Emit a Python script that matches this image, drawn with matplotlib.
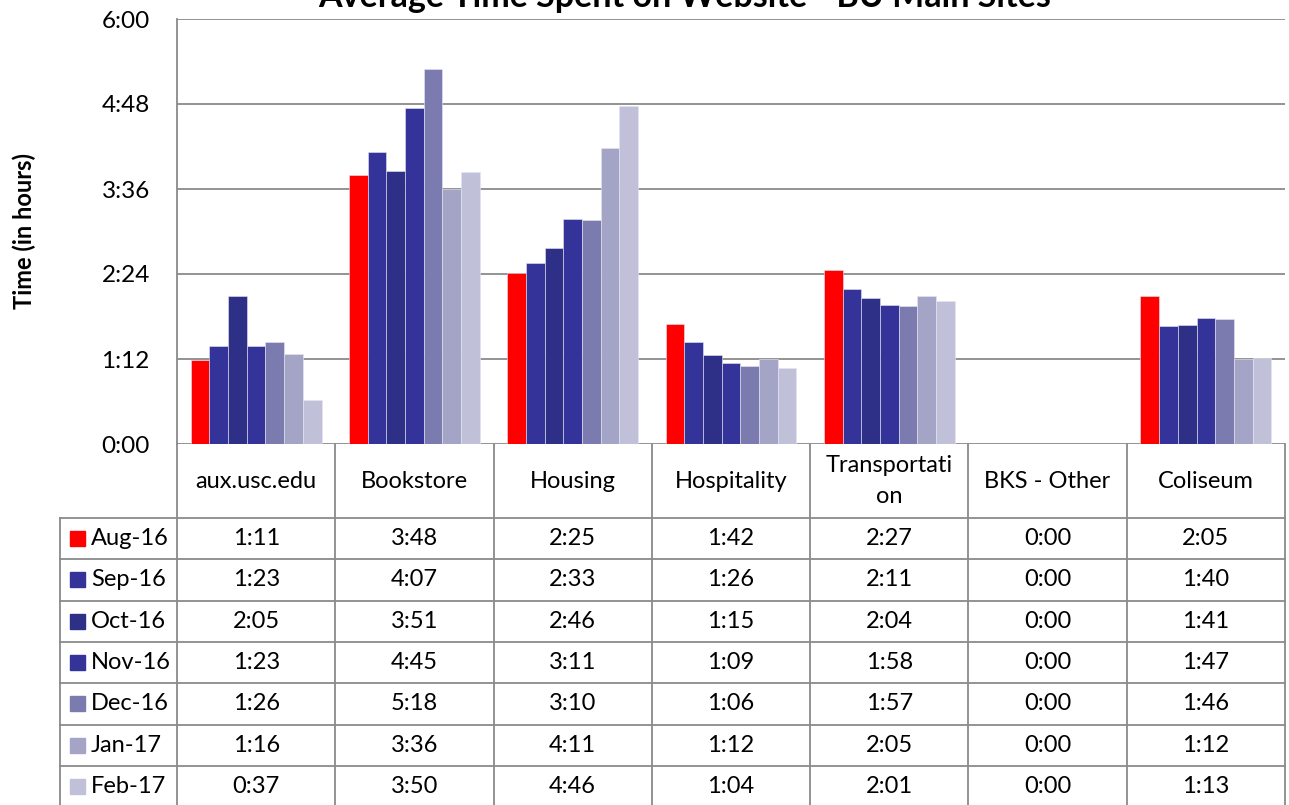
import matplotlib
matplotlib.use("Agg")
import matplotlib.pyplot as plt
import numpy as np

plt.rcParams['font.family'] = ['Lato', 'DejaVu Sans']

categories = ["aux.usc.edu", "Bookstore", "Housing", "Hospitality",
              "Transportati\non", "BKS - Other", "Coliseum"]
series_names = ["Aug-16", "Sep-16", "Oct-16", "Nov-16", "Dec-16", "Jan-17", "Feb-17"]
aug16 = ["1:11", "3:48", "2:25", "1:42", "2:27", "0:00", "2:05"]
sep16 = ["1:23", "4:07", "2:33", "1:26", "2:11", "0:00", "1:40"]
oct16 = ["2:05", "3:51", "2:46", "1:15", "2:04", "0:00", "1:41"]
nov16 = ["1:23", "4:45", "3:11", "1:09", "1:58", "0:00", "1:47"]
dec16 = ["1:26", "5:18", "3:10", "1:06", "1:57", "0:00", "1:46"]
jan17 = ["1:16", "3:36", "4:11", "1:12", "2:05", "0:00", "1:12"]
feb17 = ["0:37", "3:50", "4:46", "1:04", "2:01", "0:00", "1:13"]
series_values = [aug16, sep16, oct16, nov16, dec16, jan17, feb17]
colors = ["#FF0000", "#333399", "#2E3088", "#333399", "#7B7BAF", "#A3A4C6", "#C0C1D8"]
y_ticks = [0, 1.2, 2.4, 3.6, 4.8, 6.0]

title = "Average Time Spent on Website - BU Main Sites"
ylabel = "Time (in hours)"


def to_hours(s):
    h, m = s.split(":")
    return int(h) + int(m) / 60.0


def fmt(v):
    total = int(round(v * 60))
    return f"{total // 60}:{total % 60:02d}"


W, H = 1289, 805
fig = plt.figure(figsize=(W / 100, H / 100), dpi=100)
grid_c = "#8a8a8a"
fs = 17

# main plot area
ax_l, ax_r, ax_t, ax_b = 177, 1285, 19, 444
ax = fig.add_axes([ax_l / W, (H - ax_b) / H, (ax_r - ax_l) / W, (ax_b - ax_t) / H])
n = len(categories)
x = np.arange(n)
bw = 0.118
for i, (name, vals, c) in enumerate(zip(series_names, series_values, colors)):
    hv = [to_hours(v) for v in vals]
    ax.bar(x + (i - 3) * bw, hv, width=bw, color=c, edgecolor="#e6e6f2",
           linewidth=0.4, zorder=3)
ax.set_xlim(-0.5, n - 0.5)
ax.set_ylim(0, 6)
ax.set_yticks(y_ticks)
ax.set_yticklabels([fmt(v) for v in y_ticks], fontsize=17.5)
ax.tick_params(axis='y', length=0, pad=19.5)
ax.set_xticks([])
for v in y_ticks:
    ax.axhline(v, color=grid_c, lw=1.3, zorder=1)
for s in ["top", "right", "bottom"]:
    ax.spines[s].set_visible(False)
ax.spines["left"].set_color(grid_c)
ax.spines["left"].set_linewidth(1.3)

fig.text(24 / W, 1 - 231 / H, ylabel, rotation=90, ha="center", va="center",
         fontsize=17, fontweight="bold")
fig.text(685 / W, 1 - 7 / H, title, ha="center", va="baseline",
         fontsize=24.5, fontweight="bold")

# data table
tab_l = 60
colw = (ax_r - ax_l) / n
tax = fig.add_axes([tab_l / W, 0, (ax_r - tab_l) / W, (H - ax_b) / H])
x_left = -0.5 - (ax_l - tab_l) / colw
tax.set_xlim(x_left, n - 0.5)
tab_h = H - ax_b
tax.set_ylim(tab_h, 0)
tax.axis("off")
head_h = 74
row_h = 41.3
lw = 1.3
# vertical lines
for k in range(n + 1):
    tax.plot([-0.5 + k, -0.5 + k], [0, tab_h], color=grid_c, lw=lw, clip_on=False)
tax.plot([x_left, x_left], [head_h, tab_h], color=grid_c, lw=lw, clip_on=False)
# horizontal lines
for r in range(len(series_names) + 1):
    yy = head_h + r * row_h
    tax.plot([x_left, n - 0.5], [yy, yy], color=grid_c, lw=lw, clip_on=False)
# header texts
for j, cat in enumerate(categories):
    tax.text(j, head_h / 2, cat, ha="center", va="center", fontsize=fs,
             linespacing=1.6)
# rows
sq_w = 15 / colw
for r, (name, vals, c) in enumerate(zip(series_names, series_values, colors)):
    yc = head_h + (r + 0.5) * row_h
    tax.add_patch(plt.Rectangle((x_left + 10 / colw, yc - 7.5), sq_w, 15,
                                color=c, clip_on=False))
    tax.text(x_left + 31 / colw, yc, name, ha="left", va="center", fontsize=fs)
    for j, v in enumerate(vals):
        tax.text(j, yc, v, ha="center", va="center", fontsize=fs)

fig.savefig("out.png", dpi=100)
